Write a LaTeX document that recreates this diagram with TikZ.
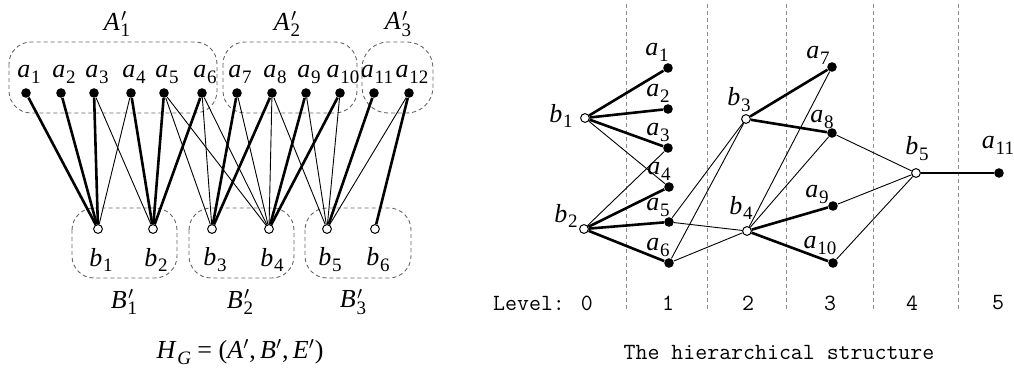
\documentclass[tikz,border=0pt]{standalone}
\usepackage{fontspec}
\setmainfont{Liberation Serif}
\newcommand\vsub[2]{\textit{#1}\kern0.03em\raisebox{-0.5ex}{\fontsize{9.5}{11}\selectfont #2}}
\newcommand\vsubp[2]{\textit{#1}\rlap{\kern0.05em$^{\prime}$}\kern0.03em\raisebox{-0.55ex}{\fontsize{9.5}{11}\selectfont #2}}
\begin{document}
\begin{tikzpicture}[x=0.5pt,y=-0.5pt,
  anode/.style={circle,fill=black,inner sep=0pt,minimum size=4.8pt},
  bnode/.style={circle,draw=black,fill=white,line width=0.5pt,inner sep=0pt,minimum size=4.4pt},
  thk/.style={line width=1.3pt},
  thn/.style={line width=0.45pt},
  grp/.style={draw=black!60,dash pattern=on 2pt off 1.5pt,rounded corners=11pt,line width=0.45pt},
  lvl/.style={draw=black!45,dash pattern=on 2pt off 1.5pt,line width=0.45pt},
  lab/.style={inner sep=0pt,font=\fontsize{13}{15}\selectfont},
  mono/.style={inner sep=0pt,font=\fontsize{11.6}{13}\selectfont\ttfamily}]
\useasboundingbox (0,0) rectangle (1014,389);

% ---------- left: bipartite graph ----------
\draw[grp] (9,42) rectangle (217,113);
\draw[grp] (223,42) rectangle (357,113);
\draw[grp,rounded corners=13pt] (362,42) rectangle (433,113);
\draw[grp] (72,208) rectangle (177,278);
\draw[grp] (189,208) rectangle (294,278);
\draw[grp] (305,208) rectangle (411,278);

\node[lab] (LA1) at (117,24) {\vsubp{A}{1}};
\node[lab] (LA2) at (287,24) {\vsubp{A}{2}};
\node[lab] (LA3) at (398,24) {\vsubp{A}{3}};
\node[lab] (LB1) at (124,302) {\vsubp{B}{1}};
\node[lab] (LB2) at (240,302) {\vsubp{B}{2}};
\node[lab] (LB3) at (353,302) {\vsubp{B}{3}};

\foreach \i/\x in {1/26,2/61,3/94,4/131,5/164,6/202,7/237,8/272,9/306,10/340,11/374,12/409}{
  \node[anode] (La\i) at (\x,93) {};
  \node[lab] (Lla\i) at (\x+3,74) {\vsub{a}{\i}};
}
\foreach \i/\x in {1/98,2/153,3/212,4/269,5/327,6/375}{
  \node[bnode] (Lb\i) at (\x,229) {};
  \node[lab] (Llb\i) at (\x+3,260) {\vsub{b}{\i}};
}
\foreach \a/\b in {1/1,2/1,3/1,4/2,5/2,6/2,7/3,8/3,9/4,10/4,11/5,12/6}
  \draw[thk] (La\a) -- (Lb\b);
\foreach \a/\b in {4/1,3/2,5/3,6/3,5/4,6/4,7/4,8/4,8/5,9/5,10/5,12/5}
  \draw[thn] (La\a) -- (Lb\b);

\node[lab] (capL) at (240,352) {\vsub{H}{\textit{G}} = (\textit{A}$'$,\,\textit{B}$'$,\,\textit{E}$'$)};

% ---------- right: hierarchical structure ----------
\foreach \x [count=\k] in {626,707,786,873,958}
  \draw[lvl] (\x,4) coordinate (vt\k) -- (\x,312) coordinate (vb\k);

\node[bnode] (Rb1) at (585,118) {};
\node[bnode] (Rb2) at (584,229) {};
\node[bnode] (Rb3) at (746,119) {};
\node[bnode] (Rb4) at (747,231) {};
\node[bnode] (Rb5) at (916,173) {};
\node[anode] (Ra1) at (668,68) {};
\node[anode] (Ra2) at (668,109) {};
\node[anode] (Ra3) at (668,148) {};
\node[anode] (Ra4) at (669,187) {};
\node[anode] (Ra5) at (669,222) {};
\node[anode] (Ra6) at (669,263) {};
\node[anode] (Ra7) at (832,67) {};
\node[anode] (Ra8) at (832,133) {};
\node[anode] (Ra9) at (833,206) {};
\node[anode] (Ra10) at (833,263) {};
\node[anode] (Ra11) at (999,173) {};

\node[lab] (Rlb1) at (561,116) {\vsub{b}{1}};
\node[lab] (Rlb2) at (566,216) {\vsub{b}{2}};
\node[lab] (Rlb3) at (739,100) {\vsub{b}{3}};
\node[lab] (Rlb4) at (741,208) {\vsub{b}{4}};
\node[lab] (Rlb5) at (917,149) {\vsub{b}{5}};
\node[lab] (Rla1) at (657,52) {\vsub{a}{1}};
\node[lab] (Rla2) at (658,93) {\vsub{a}{2}};
\node[lab] (Rla3) at (658,132) {\vsub{a}{3}};
\node[lab] (Rla4) at (659,171) {\vsub{a}{4}};
\node[lab] (Rla5) at (658,207) {\vsub{a}{5}};
\node[lab] (Rla6) at (658,247) {\vsub{a}{6}};
\node[lab] (Rla7) at (818,55) {\vsub{a}{7}};
\node[lab] (Rla8) at (822,119) {\vsub{a}{8}};
\node[lab] (Rla9) at (817,194) {\vsub{a}{9}};
\node[lab] (Rla10) at (820,245) {\vsub{a}{10}};
\node[lab] (Rla11) at (998,145) {\vsub{a}{11}};

\foreach \b/\a in {1/1,1/2,1/3,2/4,2/5,2/6,3/7,3/8,4/9,4/10,5/11}
  \draw[thk] (Rb\b) -- (Ra\a);
\foreach \b/\a in {1/4,2/3,3/5,3/6,4/5,4/6,4/7,4/8,5/8,5/9,5/10}
  \draw[thn] (Rb\b) -- (Ra\a);

\node[mono] (L0) at (543,303) {Level: 0};
\node[mono] (L1) at (668,303) {1};
\node[mono] (L2) at (748,303) {2};
\node[mono] (L3) at (830,303) {3};
\node[mono] (L4) at (912,303) {4};
\node[mono] (L5) at (998,303) {5};

\node[mono] (capR) at (779,352) {The hierarchical structure};
\end{tikzpicture}
\end{document}
